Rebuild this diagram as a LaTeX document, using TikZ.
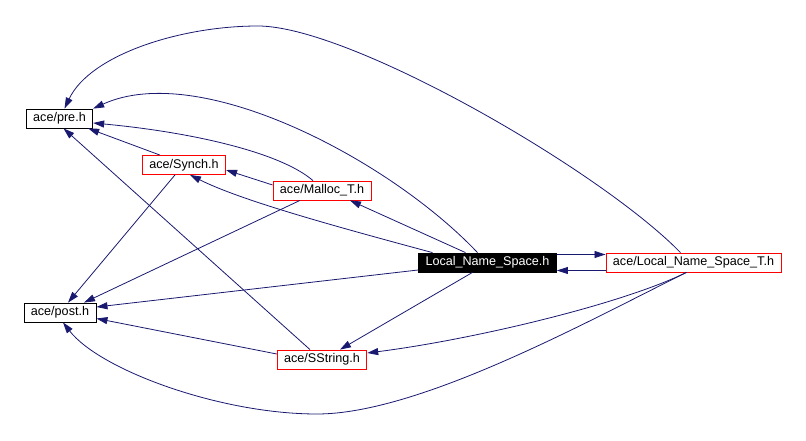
\documentclass[tikz,border=0pt]{standalone}
\usepackage{fontspec}
\setmainfont{Liberation Sans}
\usepackage{tikz}
\usetikzlibrary{arrows.meta,positioning,calc}

\definecolor{edgeblue}{RGB}{25,25,112}

\begin{document}
\begin{tikzpicture}[x=1pt,y=-1pt,
  hdr/.style={draw=black,line width=0.8pt,inner xsep=7pt,inner ysep=0pt,minimum height=19pt,font=\fontsize{12.6}{14}\selectfont},
  hdrred/.style={hdr,draw=red},
  hdrcur/.style={hdr,fill=black,text=white},
  incl/.style={draw=edgeblue,line width=0.8pt,-{Triangle[length=11pt,width=7pt]}}]
\useasboundingbox (0,0) rectangle (806,441);

\node[hdr] (pre) at (59.5,118.5) {ace/pre.h};
\node[hdr] (post) at (60,312.5) {ace/post.h};
\node[hdrred] (synch) at (184,165) {ace/Synch.h};
\node[hdrred] (malloc) at (322,190.5) {ace/Malloc\_T.h};
\node[hdrcur] (lns) at (487.5,262.5) {Local\_Name\_Space.h};
\node[hdrred] (lnst) at (693.5,262.5) {ace/Local\_Name\_Space\_T.h};
\node[hdrred] (sstring) at (322,359.5) {ace/SString.h};

% Local_Name_Space.h
\draw[incl] ([xshift=-10pt]lns.north) .. controls (390,160) and (200,60) .. (pre.north east);
\draw[incl] ([xshift=-55pt]lns.north) .. controls (330,225) and (240,200) .. ([xshift=6pt]synch.south);
\draw[incl] ([xshift=-22pt]lns.north) -- ([xshift=28pt]malloc.south);
\draw[incl] ([yshift=-7.5pt]lns.west) -- ([yshift=5.5pt]post.east);
\draw[incl] ([xshift=-15pt]lns.south) -- ([xshift=18pt]sstring.north);
\draw[incl] ([yshift=8pt]lns.east) -- ([yshift=8pt]lnst.west);

% ace/Local_Name_Space_T.h
\draw[incl] ([yshift=-8pt]lnst.west) -- ([yshift=-8pt]lns.east);
\draw[incl] ([xshift=-13pt]lnst.north) .. controls (600,170) and (350,26) .. (258,26)
  .. controls (180,26) and (90,55) .. ([xshift=5pt]pre.north);
\draw[incl] ([xshift=-7pt]lnst.south) .. controls (620,305) and (470,340) .. ([yshift=6.5pt]sstring.east);
\draw[incl] ([xshift=-7pt]lnst.south) .. controls (590,320) and (420,414) .. (317,414)
  .. controls (220,414) and (100,370) .. ([xshift=3pt]post.south);

% the others
\draw[incl] ([xshift=-24pt]synch.north) -- ([xshift=-5pt]pre.south east);
\draw[incl] ([xshift=-9pt]synch.south) -- ([xshift=8pt]post.north);
\draw[incl] ([xshift=-9pt]malloc.north) .. controls (280,152) and (190,132) .. ([yshift=-4.5pt]pre.east);
\draw[incl] ([yshift=5.5pt]malloc.west) -- ([yshift=-5pt]synch.east);
\draw[incl] ([xshift=-22pt]malloc.south) -- ([xshift=24pt]post.north);
\draw[incl] ([xshift=-12pt]sstring.north) -- ([xshift=4pt]pre.south);
\draw[incl] ([yshift=5.5pt]sstring.west) -- ([yshift=-6pt]post.east);
\end{tikzpicture}
\end{document}
